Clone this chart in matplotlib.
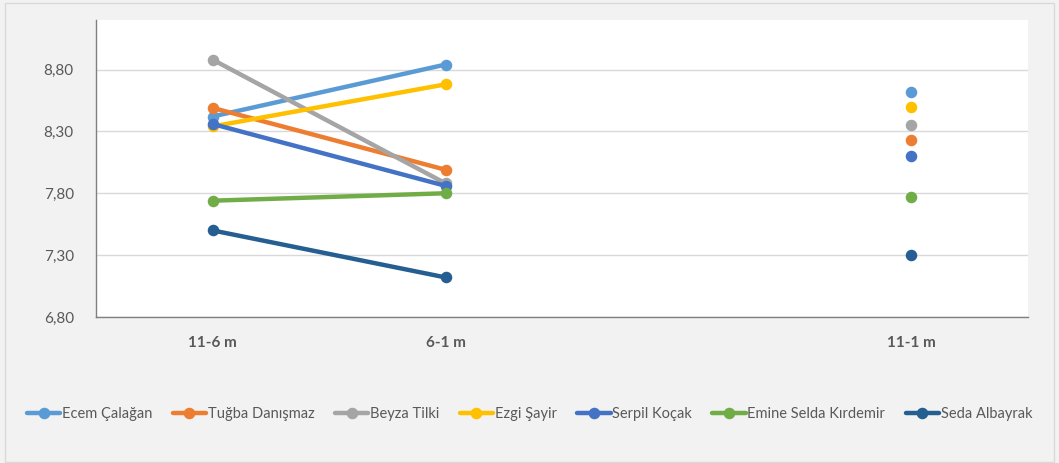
import numpy as np
import matplotlib.pyplot as plt
from matplotlib.patches import Rectangle
from matplotlib.ticker import FuncFormatter

plt.rcParams['font.family'] = ['Lato', 'DejaVu Sans']

periods = ['11-6 m', '6-1 m', '', '11-1 m']
names = ['Ecem Çalağan', 'Tuğba Danışmaz', 'Beyza Tilki', 'Ezgi Şayir',
         'Serpil Koçak', 'Emine Selda Kırdemir', 'Seda Albayrak']
colors = ['#5B9BD5', '#ED7D31', '#A5A5A5', '#FFC000',
          '#4472C4', '#70AD47', '#255E91']

ecem = [8.42, 8.84, np.nan, 8.62]
tugba = [8.49, 7.99, np.nan, 8.23]
beyza = [8.88, 7.88, np.nan, 8.35]
ezgi = [8.34, 8.68, np.nan, 8.50]
serpil = [8.36, 7.86, np.nan, 8.10]
emine = [7.74, 7.80, np.nan, 7.77]
seda = [7.50, 7.12, np.nan, 7.30]
series = [ecem, tugba, beyza, ezgi, serpil, emine, seda]

fig = plt.figure(figsize=(10.59, 4.63), dpi=100, facecolor='#F2F2F2')
fig.patches.append(Rectangle((0.005, 0.003), 0.99, 0.991, transform=fig.transFigure,
                             fill=False, edgecolor='#D9D9D9', linewidth=1))
ax = fig.add_axes([0.0907, 0.3153, 0.88, 0.6415])
ax.set_facecolor('white')

x = np.arange(len(periods))
for name, vals, c in zip(names, series, colors):
    ax.plot(x, vals, color=c, linewidth=3.2, marker='o', markersize=7.3,
            label=name, solid_capstyle='round')

ax.set_xlim(-0.5, len(periods) - 0.5)
ax.set_ylim(6.8, 9.2)
ax.set_yticks([6.8, 7.3, 7.8, 8.3, 8.8])
ax.yaxis.set_major_formatter(FuncFormatter(lambda v, p: f'{v:.2f}'.replace('.', ',')))
ax.set_xticks(x)
ax.set_xticklabels(periods, fontweight='bold')
ax.tick_params(axis='y', length=0, pad=16, labelsize=11, labelcolor='#595959')
ax.tick_params(axis='x', length=0, pad=14, labelsize=11, labelcolor='#595959')
ax.grid(axis='y', color='#D9D9D9', linewidth=1)
ax.set_axisbelow(True)
for s in ['top', 'right']:
    ax.spines[s].set_visible(False)
for s in ['left', 'bottom']:
    ax.spines[s].set_color('#808080')
    ax.spines[s].set_linewidth(1)

fig.legend(loc='center', bbox_to_anchor=(0.5, 0.106), ncol=7, frameon=False,
           fontsize=10.5, labelcolor='#595959', handlelength=2.3, handletextpad=0.1,
           columnspacing=1.4)

fig.savefig('out.png', dpi=100, facecolor=fig.get_facecolor())
